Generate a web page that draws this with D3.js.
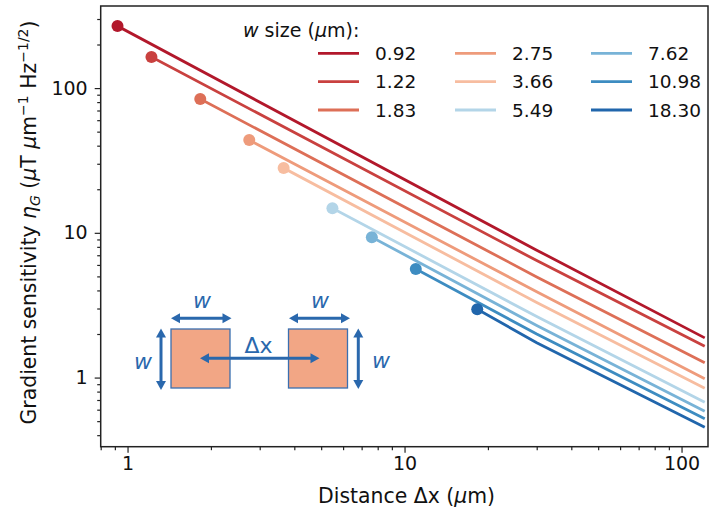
<!DOCTYPE html>
<html>
<head>
<meta charset="utf-8">
<script src="https://cdn.jsdelivr.net/npm/d3@7/dist/d3.min.js"></script>
<style>
  html, body { margin: 0; padding: 0; background: #fff; }
  svg { display: block; font-family: "DejaVu Sans", sans-serif; }
</style>
</head>
<body>
<svg id="chart" width="709" height="518"></svg>
<script>
// Pixel size w of each square (µm) and legend labels
const sizeLabels = ["0.92", "1.22", "1.83", "2.75", "3.66", "5.49", "7.62", "10.98", "18.30"];
const sizeValues = [0.92, 1.22, 1.83, 2.75, 3.66, 5.49, 7.62, 10.98, 18.30];
const seriesColors = ["#b2182b", "#c9413f", "#dd6f57", "#ee9b7b", "#f7bda0",
                      "#b3d5e8", "#78b3d7", "#3d8cc1", "#2166ac"];

// Sensitivity η_G at the smallest spacing (Δx = w), marked with a dot
const etaAtContact = [268, 164, 84, 43.7, 28, 14.8, 9.33, 5.62, 2.97];
// Sensitivity at Δx = 30 µm
const etaAt30 = [7.59, 6.43, 4.96, 3.92, 3.30, 2.64, 2.29, 2.00, 1.74];
// Sensitivity at Δx = 120 µm
const etaAt120 = [1.90, 1.66, 1.278, 0.99, 0.853, 0.683, 0.592, 0.524, 0.458];

const xTickValues = [1, 10, 100];
const xTickLabels = ["1", "10", "100"];
const yTickValues = [1, 10, 100];
const yTickLabels = ["1", "10", "100"];

const svg = d3.select("#chart");
const plot = { left: 100.7, right: 708, top: 6, bottom: 446.7 };

const x = d3.scaleLog().domain([0.8, 124.6]).range([plot.left, plot.right]);
const y = d3.scaleLog().domain([0.333, 369]).range([plot.bottom, plot.top]);

const axisColor = "#222";

// Build each series as a list of (Δx, η) points
const series = sizeValues.map((w, i) => ({
  label: sizeLabels[i],
  color: seriesColors[i],
  points: [[w, etaAtContact[i]], [30, etaAt30[i]], [120, etaAt120[i]]]
}));

const line = d3.line().x(d => x(d[0])).y(d => y(d[1]));

const gData = svg.append("g");
series.forEach(s => {
  gData.append("path")
    .attr("d", line(s.points))
    .attr("fill", "none")
    .attr("stroke", s.color)
    .attr("stroke-width", 2.8)
    .attr("stroke-linecap", "square");
  gData.append("circle")
    .attr("cx", x(s.points[0][0]))
    .attr("cy", y(s.points[0][1]))
    .attr("r", 6)
    .attr("fill", s.color);
});

// Axes: ticks pointing outward, major + minor on log scale
function minorTicks(scale) {
  const [a, b] = scale.domain();
  const out = [];
  for (let e = Math.floor(Math.log10(a)); e <= Math.ceil(Math.log10(b)); e++) {
    for (let m = 2; m <= 9; m++) {
      const v = m * Math.pow(10, e);
      if (v >= a * 0.999 && v <= b * 1.001) out.push(v);
    }
  }
  return out;
}

const xAxis = d3.axisBottom(x).tickValues(xTickValues)
  .tickFormat((d, i) => xTickLabels[i]).tickSize(6).tickPadding(4);
const xMinor = d3.axisBottom(x).tickValues(minorTicks(x)).tickFormat("").tickSize(3.5);
const yAxis = d3.axisLeft(y).tickValues(yTickValues)
  .tickFormat((d, i) => yTickLabels[i]).tickSize(6).tickPadding(7);
const yMinor = d3.axisLeft(y).tickValues(minorTicks(y)).tickFormat("").tickSize(3.5);

function styleAxis(g) {
  g.select(".domain").remove();
  g.selectAll("line").attr("stroke", axisColor).attr("stroke-width", 1.2);
  g.selectAll("text").attr("fill", "#111").attr("font-size", 19)
    .attr("font-family", "DejaVu Sans, sans-serif");
}

svg.append("g").attr("transform", `translate(0,${plot.bottom})`).call(xMinor).call(styleAxis);
svg.append("g").attr("transform", `translate(0,${plot.bottom})`).call(xAxis).call(styleAxis);
svg.append("g").attr("transform", `translate(${plot.left},0)`).call(yMinor).call(styleAxis);
svg.append("g").attr("transform", `translate(${plot.left},0)`).call(yAxis).call(styleAxis);

// Frame
svg.append("rect")
  .attr("x", plot.left).attr("y", plot.top)
  .attr("width", plot.right - plot.left).attr("height", plot.bottom - plot.top)
  .attr("fill", "none").attr("stroke", axisColor).attr("stroke-width", 1.5);

// Axis labels
const labelSize = 20.4;
const xLabel = svg.append("text")
  .attr("x", 406.5).attr("y", 503)
  .attr("text-anchor", "middle").attr("font-size", labelSize).attr("fill", "#111");
xLabel.append("tspan").text("Distance Δx (");
xLabel.append("tspan").attr("font-style", "italic").text("μ");
xLabel.append("tspan").text("m)");

const yLabel = svg.append("text")
  .attr("transform", `translate(35.5,222.5) rotate(-90)`)
  .attr("text-anchor", "middle").attr("font-size", labelSize).attr("fill", "#111");
yLabel.append("tspan").text("Gradient sensitivity ");
yLabel.append("tspan").attr("font-style", "italic").text("η");
yLabel.append("tspan").attr("font-style", "italic").attr("font-size", 14).attr("dy", 4.5).text("G");
yLabel.append("tspan").attr("dy", -4.5).text(" (");
yLabel.append("tspan").attr("font-style", "italic").text("μ");
yLabel.append("tspan").text("T ");
yLabel.append("tspan").attr("font-style", "italic").text("μ");
yLabel.append("tspan").text("m");
yLabel.append("tspan").attr("font-size", 14).attr("dy", -8).text("−1");
yLabel.append("tspan").attr("dy", 8).text(" Hz");
yLabel.append("tspan").attr("font-size", 14).attr("dy", -8).text("−1/2");
yLabel.append("tspan").attr("dy", 8).text(")");

// Legend (three columns, no frame)
const legend = svg.append("g");
const legTitle = legend.append("text")
  .attr("x", 243).attr("y", 36.5).attr("font-size", 19).attr("fill", "#111");
legTitle.append("tspan").attr("font-style", "italic").text("w");
legTitle.append("tspan").text(" size (");
legTitle.append("tspan").attr("font-style", "italic").text("μ");
legTitle.append("tspan").text("m):");

const colX = [318, 455, 591];
const rowY = [53.3, 81.7, 110];
series.forEach((s, i) => {
  const c = Math.floor(i / 3), r = i % 3;
  legend.append("line")
    .attr("x1", colX[c]).attr("x2", colX[c] + 41)
    .attr("y1", rowY[r]).attr("y2", rowY[r])
    .attr("stroke", s.color).attr("stroke-width", 2.8);
  legend.append("text")
    .attr("x", colX[c] + 57).attr("y", rowY[r] + 6.7)
    .attr("font-size", 18.5).attr("fill", "#111").text(s.label);
});

// Inset sketch: two square pixels of side w separated by Δx
const inkBlue = "#2a68ad";
const sketch = svg.append("g");

function arrow(x1, y1, x2, y2) {
  const len = Math.hypot(x2 - x1, y2 - y1);
  const ux = (x2 - x1) / len, uy = (y2 - y1) / len;
  const hl = 9, hw = 5;
  sketch.append("line")
    .attr("x1", x1 + ux * hl * 0.8).attr("y1", y1 + uy * hl * 0.8)
    .attr("x2", x2 - ux * hl * 0.8).attr("y2", y2 - uy * hl * 0.8)
    .attr("stroke", inkBlue).attr("stroke-width", 3);
  const head = (px, py, dx, dy) => {
    const bx = px - dx * hl, by = py - dy * hl;
    return `${px},${py} ${bx - dy * hw},${by + dx * hw} ${bx + dy * hw},${by - dx * hw}`;
  };
  sketch.append("polygon").attr("points", head(x2, y2, ux, uy)).attr("fill", inkBlue);
  sketch.append("polygon").attr("points", head(x1, y1, -ux, -uy)).attr("fill", inkBlue);
}

const squares = [{ x: 171, y: 329 }, { x: 288.5, y: 329 }];
const side = 59;
squares.forEach(sq => {
  sketch.append("rect")
    .attr("x", sq.x).attr("y", sq.y).attr("width", side).attr("height", side)
    .attr("fill", "#f2a685").attr("stroke", "#3a6fb0").attr("stroke-width", 1.3);
});

arrow(171, 318.3, 231.5, 318.3);
arrow(289, 318.3, 350, 318.3);
arrow(161, 328.5, 161, 390);
arrow(358.3, 328.5, 358.3, 389);
arrow(200, 358.3, 319.5, 358.3);

function sketchText(tx, ty, str, italic) {
  sketch.append("text").attr("x", tx).attr("y", ty)
    .attr("text-anchor", "middle").attr("font-size", 22)
    .attr("font-style", italic ? "italic" : "normal")
    .attr("fill", inkBlue).text(str);
}
sketchText(202, 308, "w", true);
sketchText(320, 308, "w", true);
sketchText(143, 369, "w", true);
sketchText(381, 368, "w", true);
sketchText(258.5, 353, "Δx", false);
</script>
</body>
</html>
